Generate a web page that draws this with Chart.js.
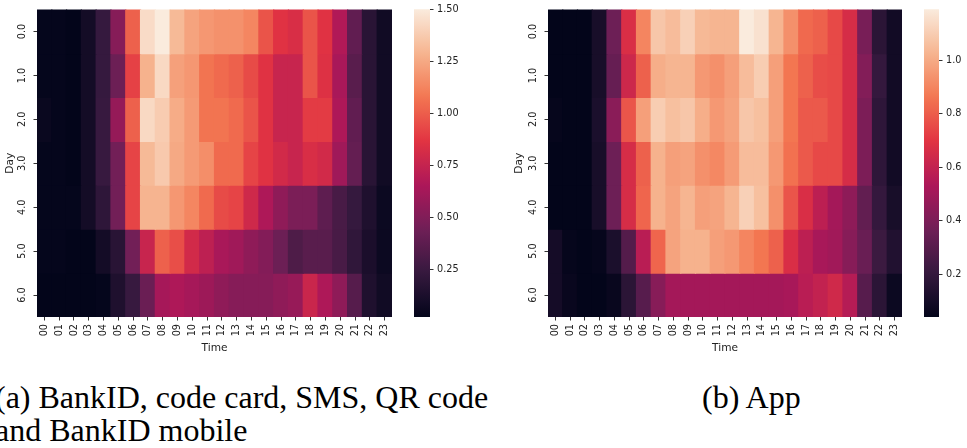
<!DOCTYPE html>
<html>
<head>
<meta charset="utf-8">
<script src="https://cdn.jsdelivr.net/npm/chart.js@4.4.1/dist/chart.umd.min.js"></script>
<style>
  body { margin: 0; background: #fff; width: 967px; height: 448px; overflow: hidden; position: relative; }
  canvas { position: absolute; top: 0; }
  .cap { position: absolute; font-family: "Liberation Serif", serif; font-size: 32px; line-height: 33px; color: #000; white-space: nowrap; }
</style>
</head>
<body>
<canvas id="heatA" width="400" height="360" style="left:0"></canvas>
<canvas id="barA" width="70" height="360" style="left:400px"></canvas>
<canvas id="heatB" width="400" height="360" style="left:510px"></canvas>
<canvas id="barB" width="57" height="360" style="left:910px"></canvas>
<div class="cap" style="left:-5px;top:381px">(a) BankID, code card, SMS, QR code<br>and BankID mobile</div>
<div class="cap" style="left:702px;top:381px">(b) App</div>

<script>
const hours = ['00', '01', '02', '03', '04', '05', '06', '07', '08', '09', '10', '11',
               '12', '13', '14', '15', '16', '17', '18', '19', '20', '21', '22', '23'];
const days = [0, 1, 2, 3, 4, 5, 6];

// (a) BankID, code card, SMS, QR code and BankID mobile - one row per day
const valuesA = [
  [0.03, 0.03, 0.02, 0.09, 0.23, 0.52, 1.01, 1.44, 1.50, 1.31, 1.23, 1.19, 1.17, 1.17, 1.13, 0.97, 0.86, 0.83, 0.97, 0.86, 0.67, 0.39, 0.18, 0.08],
  [0.03, 0.03, 0.02, 0.09, 0.23, 0.43, 0.91, 1.28, 1.43, 1.22, 1.19, 1.07, 1.04, 1.01, 0.94, 0.86, 0.76, 0.76, 0.97, 0.85, 0.64, 0.36, 0.18, 0.08],
  [0.05, 0.03, 0.02, 0.09, 0.24, 0.57, 1.01, 1.43, 1.38, 1.26, 1.20, 1.07, 1.07, 1.04, 0.97, 0.86, 0.76, 0.76, 0.89, 0.89, 0.66, 0.39, 0.18, 0.08],
  [0.03, 0.03, 0.02, 0.09, 0.24, 0.45, 0.92, 1.31, 1.37, 1.25, 1.20, 1.16, 1.04, 1.04, 0.92, 0.86, 0.80, 0.76, 0.83, 0.80, 0.61, 0.40, 0.18, 0.08],
  [0.03, 0.03, 0.03, 0.09, 0.20, 0.45, 0.92, 1.29, 1.29, 1.19, 1.13, 1.04, 0.94, 0.92, 0.79, 0.66, 0.55, 0.48, 0.48, 0.38, 0.30, 0.23, 0.14, 0.06],
  [0.03, 0.03, 0.02, 0.02, 0.09, 0.18, 0.45, 0.76, 1.01, 0.95, 0.80, 0.72, 0.64, 0.61, 0.55, 0.51, 0.43, 0.32, 0.36, 0.36, 0.30, 0.21, 0.12, 0.06],
  [0.02, 0.02, 0.02, 0.02, 0.03, 0.14, 0.24, 0.42, 0.63, 0.66, 0.63, 0.60, 0.55, 0.52, 0.52, 0.52, 0.55, 0.58, 0.77, 0.66, 0.55, 0.35, 0.14, 0.08]
];

// (b) App - one row per day
const valuesB = [
  [0.04, 0.04, 0.04, 0.11, 0.36, 0.67, 0.90, 1.08, 1.05, 1.11, 1.04, 1.03, 1.03, 1.19, 1.16, 1.03, 0.93, 0.83, 0.81, 0.75, 0.66, 0.39, 0.17, 0.09],
  [0.04, 0.04, 0.04, 0.11, 0.34, 0.63, 0.81, 1.01, 1.03, 1.03, 0.95, 0.93, 0.97, 1.05, 1.10, 0.97, 0.86, 0.81, 0.76, 0.75, 0.66, 0.42, 0.20, 0.09],
  [0.05, 0.04, 0.04, 0.12, 0.44, 0.78, 0.97, 1.10, 1.06, 1.08, 1.01, 0.95, 0.98, 1.08, 1.06, 0.97, 0.86, 0.79, 0.79, 0.75, 0.66, 0.40, 0.18, 0.09],
  [0.04, 0.04, 0.04, 0.11, 0.36, 0.66, 0.81, 1.02, 0.97, 0.98, 0.93, 0.91, 0.96, 1.05, 1.05, 0.95, 0.85, 0.79, 0.75, 0.75, 0.66, 0.40, 0.18, 0.09],
  [0.04, 0.04, 0.04, 0.11, 0.36, 0.66, 0.82, 1.02, 0.98, 1.03, 0.97, 0.98, 1.03, 1.11, 1.06, 0.93, 0.78, 0.67, 0.58, 0.51, 0.45, 0.33, 0.20, 0.11],
  [0.10, 0.05, 0.04, 0.05, 0.12, 0.29, 0.57, 0.82, 0.98, 1.02, 1.02, 0.97, 0.95, 0.90, 0.86, 0.81, 0.67, 0.58, 0.52, 0.50, 0.43, 0.35, 0.22, 0.14],
  [0.10, 0.06, 0.04, 0.04, 0.06, 0.17, 0.30, 0.43, 0.51, 0.51, 0.51, 0.51, 0.51, 0.51, 0.51, 0.51, 0.52, 0.57, 0.60, 0.64, 0.56, 0.30, 0.17, 0.07]
];

const cbTicksA = [0.25, 0.50, 0.75, 1.00, 1.25, 1.50];
const cbTicksB = [0.2, 0.4, 0.6, 0.8, 1.0];

// seaborn "rocket" colormap, sampled
const rocketStops = [
  [0.000, [3, 5, 26]],
  [0.143, [53, 25, 62]],
  [0.286, [112, 31, 87]],
  [0.429, [173, 23, 89]],
  [0.571, [225, 51, 66]],
  [0.714, [243, 118, 81]],
  [0.857, [246, 180, 143]],
  [1.000, [250, 235, 221]]
];

function rocket(t) {
  t = Math.max(0, Math.min(1, t));
  for (let i = 1; i < rocketStops.length; i++) {
    const [t1, c1] = rocketStops[i];
    if (t <= t1) {
      const [t0, c0] = rocketStops[i - 1];
      const f = (t - t0) / (t1 - t0);
      const c = c0.map((v, k) => Math.round(v + (c1[k] - v) * f));
      return `rgb(${c[0]},${c[1]},${c[2]})`;
    }
  }
  return 'rgb(250,235,221)';
}

const tickFont = { family: 'DejaVu Sans', size: 9.7 };
const titleFont = { family: 'DejaVu Sans', size: 10.6 };
const ink = '#222';
const tickMarks = { drawOnChartArea: false, drawTicks: true, tickLength: 3.5, color: '#333', offset: false };

function heatmap(id, values, yAxisWidth, padTop, titlePad) {
  const flat = values.flat();
  const lo = Math.min(...flat), hi = Math.max(...flat);
  const datasets = days.map(d => ({
    data: hours.map(() => [d - 0.5, d + 0.5]),
    backgroundColor: values[d].map(v => rocket((v - lo) / (hi - lo))),
    borderWidth: 0,
    inflateAmount: 0.6,
    grouped: false,
    barPercentage: 1,
    categoryPercentage: 1
  }));

  new Chart(document.getElementById(id), {
    type: 'bar',
    data: { labels: hours, datasets },
    options: {
      responsive: false,
      animation: false,
      layout: { padding: { top: padTop, right: 8, left: 0, bottom: 0 } },
      plugins: { legend: { display: false }, tooltip: { enabled: false } },
      scales: {
        x: {
          ticks: { autoSkip: false, minRotation: 90, maxRotation: 90, padding: 3.5, color: ink, font: tickFont },
          grid: tickMarks,
          border: { display: false },
          title: { display: true, text: 'Time', color: ink, font: titleFont, padding: { top: 0, bottom: 5.5 } },
          afterFit: s => { s.height = 43; }
        },
        y: {
          min: -0.5,
          max: 6.5,
          reverse: true,
          afterBuildTicks: s => { s.ticks = days.map(d => ({ value: d })); },
          ticks: { callback: v => v.toFixed(1), minRotation: 90, maxRotation: 90, crossAlign: 'center', padding: 3.8, color: ink, font: tickFont },
          grid: tickMarks,
          border: { display: false },
          title: { display: true, text: 'Day', color: ink, font: titleFont, padding: { top: titlePad, bottom: 0 } },
          afterFit: s => { s.width = yAxisWidth; }
        }
      }
    }
  });
}

function rocketGradient(chart) {
  const area = chart.chartArea;
  if (!area) return rocket(0.5);
  const g = chart.ctx.createLinearGradient(0, area.bottom, 0, area.top);
  for (let i = 0; i <= 40; i++) g.addColorStop(i / 40, rocket(i / 40));
  return g;
}

function colorbar(id, values, ticks, decimals, padTop, axisWidth) {
  const flat = values.flat();
  const lo = Math.min(...flat), hi = Math.max(...flat);
  new Chart(document.getElementById(id), {
    type: 'bar',
    data: {
      labels: [''],
      datasets: [{
        data: [[lo, hi]],
        backgroundColor: ctx => rocketGradient(ctx.chart),
        borderWidth: 0,
        barPercentage: 1,
        categoryPercentage: 1
      }]
    },
    options: {
      responsive: false,
      animation: false,
      layout: { padding: { left: 14, top: padTop, bottom: 43, right: 0 } },
      plugins: { legend: { display: false }, tooltip: { enabled: false } },
      scales: {
        x: { display: false },
        y: {
          position: 'right',
          min: lo,
          max: hi,
          afterBuildTicks: s => { s.ticks = ticks.map(v => ({ value: v })); },
          ticks: { callback: v => v.toFixed(decimals), padding: 3.5, color: ink, font: tickFont },
          grid: { drawOnChartArea: false, drawTicks: true, tickLength: 3.5, color: '#333' },
          border: { display: false },
          afterFit: s => { s.width = axisWidth; }
        }
      }
    }
  });
}

heatmap('heatA', valuesA, 37, 6, 3.6);
colorbar('barA', valuesA, cbTicksA, 2, 6, 40);
heatmap('heatB', valuesB, 38, 4, 2.8);
colorbar('barB', valuesB, cbTicksB, 1, 4, 28);
</script>
</body>
</html>
